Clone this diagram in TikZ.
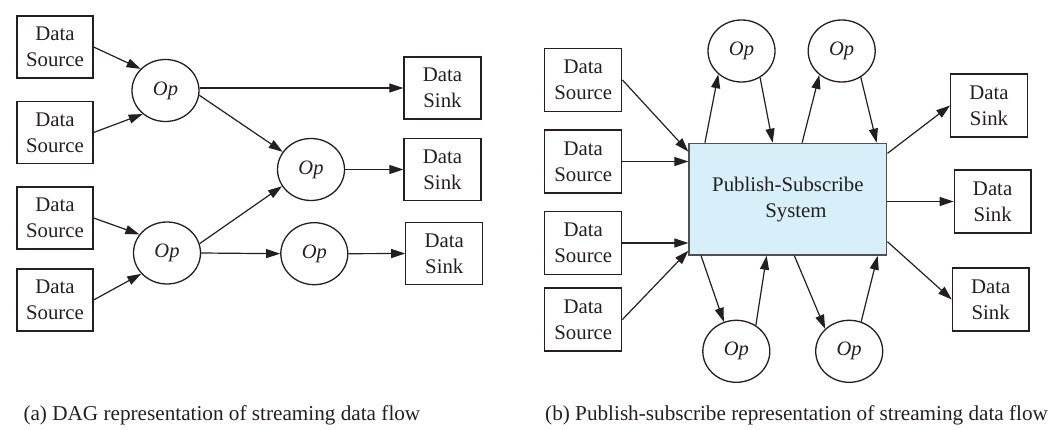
\documentclass[tikz,border=0pt]{standalone}
\usepackage{fontspec}
\setmainfont{Liberation Serif}
\usetikzlibrary{arrows.meta,calc,shapes.geometric}
\definecolor{ink}{RGB}{35,31,32}
\definecolor{psfill}{RGB}{215,239,249}
\definecolor{psline}{RGB}{80,80,80}
\begin{document}
\begin{tikzpicture}[x=1pt,y=-1pt,
  every node/.style={text=ink},
  txt/.style={font=\fontsize{20.8}{25.7}\selectfont},
  box/.style={draw=ink,line width=1.3pt,rectangle,inner sep=0pt,minimum width=76pt,minimum height=62pt,align=center,txt},
  opnode/.style={draw=ink,line width=1.3pt,ellipse,inner sep=0pt,minimum width=67pt,minimum height=62pt,font=\fontsize{20.5}{24}\selectfont\itshape},
  psbox/.style={draw=psline,fill=psfill,line width=1.4pt,rectangle,inner sep=0pt,minimum width=197.7pt,minimum height=111.7pt,align=center,txt},
  arr/.style={draw=ink,line width=1.2pt,-{Triangle[length=14pt,width=9pt]}},
  captext/.style={font=\fontsize{21.2}{25}\selectfont,anchor=base west,inner sep=0pt}
]
\useasboundingbox (0,0) rectangle (1051,430);

% ---------- (a) DAG ----------
\node[box] (ds1) at (55,47) {Data\\Source};
\node[box] (ds2) at (55,132.5) {Data\\Source};
\node[box] (ds3) at (55,218) {Data\\Source};
\node[box] (ds4) at (55,300) {Data\\Source};
\node[opnode] (op1) at (165.5,90.5) {Op};
\node[opnode] (op2) at (167,253) {Op};
\node[opnode] (op3) at (311,169.5) {Op};
\node[opnode] (op4) at (314.3,253.7) {Op};
\node[box,minimum width=77pt] (sk1) at (442.5,88) {Data\\Sink};
\node[box,minimum width=77pt] (sk2) at (442.5,169.5) {Data\\Sink};
\node[box,minimum width=77pt] (sk3) at (444.3,253.5) {Data\\Sink};

\draw[arr] (ds1.east) -- (op1.139);
\draw[arr] (ds2.east) -- (op1.226);
\draw[arr] (op1.5 |- sk1.west) -- (sk1.west);
\draw[arr] (op1.352) -- (op3.148);
\draw[arr] (op3.east) -- (sk2.west);
\draw[arr] (ds3.east) -- (op2.146);
\draw[arr] (ds4.east) -- (op2.219);
\draw[arr] (op2.16) -- (op3.210);
\draw[arr] (op2.east) -- (op4.west);
\draw[arr] (op4.east) -- (sk3.west);

\node[captext] (capA) at (23.3,420) {(a) DAG representation of streaming data flow};

% ---------- (b) Publish-subscribe ----------
\node[box,minimum width=77pt,minimum height=63pt] (bs1) at (583.3,80) {Data\\Source};
\node[box,minimum width=77pt,minimum height=63pt] (bs2) at (583.3,161.5) {Data\\Source};
\node[box,minimum width=77pt,minimum height=63pt] (bs3) at (583.3,243) {Data\\Source};
\node[box,minimum width=77pt,minimum height=63pt] (bs4) at (583.3,319.5) {Data\\Source};
\node[psbox] (ps) at (787.9,199.2) {Publish-Subscribe\\\hspace*{16pt}System};
\node[opnode] (ot1) at (741.5,51) {Op};
\node[opnode] (ot2) at (841.7,51) {Op};
\node[opnode] (ob1) at (736.3,351.3) {Op};
\node[opnode] (ob2) at (849.2,351.3) {Op};
\node[box,minimum width=76.5pt,minimum height=63pt] (rk1) at (989,105.5) {Data\\Sink};
\node[box,minimum width=76.5pt,minimum height=63pt] (rk2) at (992.6,201.5) {Data\\Sink};
\node[box,minimum width=76.5pt,minimum height=63pt] (rk3) at (990.7,299.5) {Data\\Sink};

\draw[arr] (bs1.east) -- ($(ps.north west)+(0,9)$);
\draw[arr] (bs2.east) -- (bs2.east -| ps.west);
\draw[arr] (bs3.east) -- (bs3.east -| ps.west);
\draw[arr] (bs4.east) -- ($(ps.south west)+(0,-5)$);

\draw[arr] ($(ps.north west)+(16.6,0)$) -- (ot1.225);
\draw[arr] (ot1.305) -- ($(ps.north west)+(84.3,0)$);
\draw[arr] ($(ps.north west)+(113.8,0)$) -- (ot2.227);
\draw[arr] (ot2.306) -- ($(ps.north west)+(188.3,0)$);

\draw[arr] ($(ps.south west)+(12.7,0)$) -- (ob1.113);
\draw[arr] (ob1.53) -- ($(ps.south west)+(78.3,0)$);
\draw[arr] ($(ps.south west)+(106,0)$) -- (ob2.137);
\draw[arr] (ob2.68) -- ($(ps.south west)+(189.3,0)$);

\draw[arr] ($(ps.north east)+(0,10.7)$) -- (rk1.west);
\draw[arr] (rk2.west -| ps.east) -- (rk2.west);
\draw[arr] ($(ps.south east)+(0,-14)$) -- (rk3.west);

\node[captext] (capB) at (545,420) {(b) Publish-subscribe representation of streaming data flow};
\end{tikzpicture}
\end{document}
